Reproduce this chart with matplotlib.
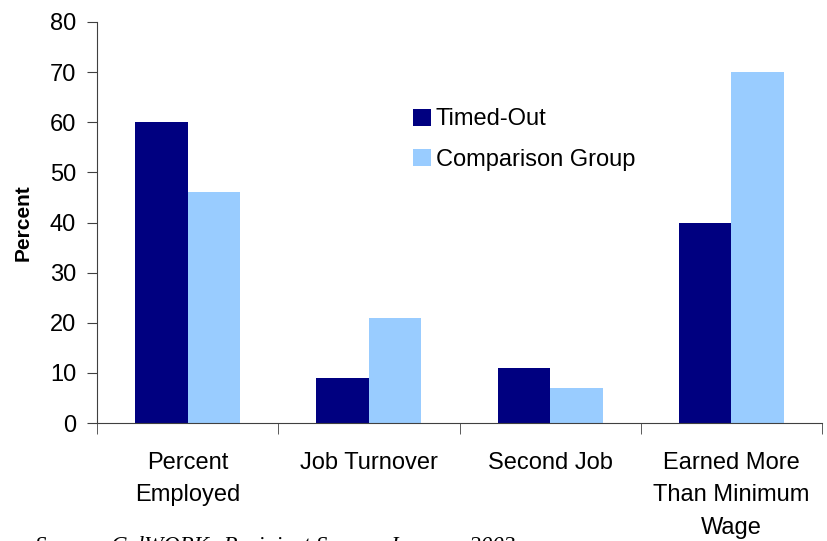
import matplotlib.pyplot as plt
import numpy as np

plt.rcParams['font.family'] = ['Liberation Sans', 'DejaVu Sans']

categories = ['Percent\nEmployed', 'Job Turnover', 'Second Job', 'Earned More\nThan Minimum\nWage']
timed_out = [60, 9, 11, 40]
comparison = [46, 21, 7, 70]
series_names = ['Timed-Out', 'Comparison Group']

fig = plt.figure(figsize=(8.27, 5.41), dpi=100)
ax = fig.add_axes([97/827, 1 - 423/541, (822 - 97)/827, (423 - 22)/541])

x = np.arange(len(categories))
w = 0.29
ax.bar(x - w/2, timed_out, w, color='#000080', label=series_names[0])
ax.bar(x + w/2, comparison, w, color='#99CCFF', label=series_names[1])

ax.set_xlim(-0.5, len(categories) - 0.5)
ax.set_ylim(0, 80)
ax.set_yticks(np.arange(0, 81, 10))
ax.set_xticks(x)
ax.set_xticklabels(categories, fontsize=17, linespacing=1.6, va='top')
ax.set_xticks(np.arange(-0.5, len(categories)), minor=True)
ax.tick_params(axis='x', which='major', length=0, pad=21)
ax.tick_params(axis='x', which='minor', length=8, direction='out', color='#404040')
ax.tick_params(axis='y', labelsize=17, length=7, direction='out', color='#404040', pad=8)
for s in ['top', 'right']:
    ax.spines[s].set_visible(False)
ax.spines['left'].set_color('#404040')
ax.spines['bottom'].set_color('#404040')
ax.set_ylabel('Percent', fontsize=15, fontweight='bold', labelpad=12)

ax.legend(loc='upper left', bbox_to_anchor=(404/827, 1 - 99/541), bbox_transform=fig.transFigure,
          frameon=False, fontsize=17, handlelength=0.75, handleheight=0.75, handletextpad=0.2,
          labelspacing=0.78, borderaxespad=0)

fig.text(35/827, 1 - 536/541, 'Source: CalWORKs Recipient Survey, January 2003',
         fontsize=16.5, style='italic', family='Liberation Serif', va='top')

fig.savefig('out.png', dpi=100)
